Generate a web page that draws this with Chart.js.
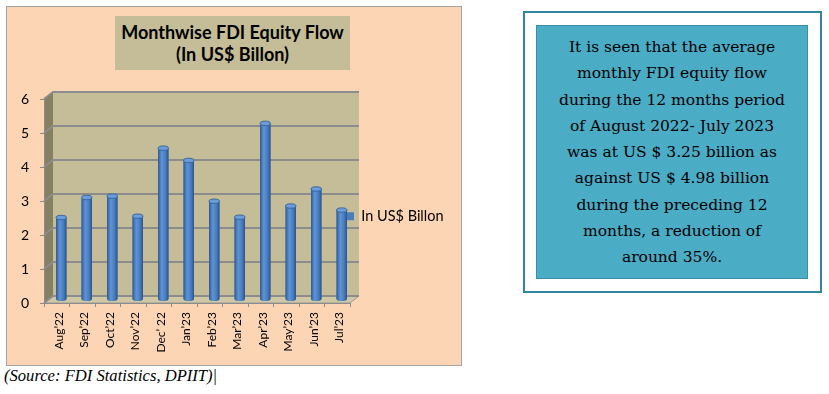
<!DOCTYPE html>
<html>
<head>
<meta charset="utf-8">
<script src="https://cdn.jsdelivr.net/npm/chart.js@4.4.0/dist/chart.umd.min.js"></script>
<style>
  body { margin: 0; background: #fff; width: 829px; height: 394px; position: relative; overflow: hidden; font-family: Lato, sans-serif; }
  #chartBox { position: absolute; left: 6px; top: 6px; width: 454px; height: 358px; border: 1px solid #a5a5a5; background: #fcd5b5; }
  #chartBox canvas { position: absolute; left: 0; top: 0; }
  #chartTitle { position: absolute; left: 108px; top: 9px; width: 235px; height: 54px; background: #c4bd97;
    font: bold 18px Lato, sans-serif; line-height: 22px; text-align: center; box-sizing: border-box; padding-top: 5px; color: #000; }
  #source { position: absolute; left: 4px; top: 366px; font: italic 16.6px "Liberation Serif", serif; color: #000; }
  #noteOuter { position: absolute; left: 523px; top: 11px; width: 295px; height: 278px; border: 2px solid #31859c; background: #fff; }
  #noteInner { position: absolute; left: 11px; top: 12px; width: 270px; height: 252px; border: 1px solid #3a8ea6; background: #4bacc6;
    font: 15.5px "DejaVu Serif", serif; line-height: 26.3px; text-align: center; color: #000; }
  #noteInner div { margin-top: 8px; }
</style>
</head>
<body>
<div id="chartBox">
  <canvas id="fdiChart" width="454" height="358"></canvas>
  <div id="chartTitle">Monthwise FDI Equity Flow<br>(In US$ Billon)</div>
</div>
<div id="source">(Source: FDI Statistics, DPIIT)|</div>
<div id="noteOuter">
  <div id="noteInner"><div>It is seen that the average<br>monthly FDI equity flow<br>during the 12 months period<br>of August 2022- July 2023<br>was at US $ 3.25 billion as<br>against US $ 4.98 billion<br>during the preceding 12<br>months, a reduction of<br>around 35%.</div></div>
</div>

<script>
// chart data
const months = ["Aug’22", "Sep’22", "Oct’22", "Nov’22", "Dec’ 22", "Jan’23", "Feb’23", "Mar’23", "Apr’23", "May’23", "Jun’23", "Jul’23"];
const fdiEquity = [2.41, 3.0, 3.04, 2.45, 4.45, 4.09, 2.89, 2.42, 5.18, 2.75, 3.25, 2.63];
const seriesName = "In US$ Billon";
const yMin = 0;
const yMax = 6;
const yStep = 1;

// fake 3D depth of the excel style plot
const DEPTH_X = 9;
const DEPTH_Y = -7;

Chart.defaults.font.family = "Lato, sans-serif";
Chart.defaults.color = "#000";

const walls3d = {
  id: "walls3d",
  afterLayout(chart) {
    // put the legend next to the last bar like in the original
    const lg = chart.legend;
    const w = lg.width, h = lg.height;
    lg.left = 339; lg.top = 202;
    lg.right = lg.left + w; lg.bottom = lg.top + h;
  },
  beforeDraw(chart) {
    const { ctx, chartArea: a, scales: { y } } = chart;
    ctx.save();
    // back wall
    ctx.fillStyle = "#c4bd97";
    ctx.fillRect(a.left + DEPTH_X, a.top + DEPTH_Y, a.right - a.left, a.bottom - a.top);
    // side wall
    ctx.fillStyle = "#858062";
    ctx.beginPath();
    ctx.moveTo(a.left, a.top);
    ctx.lineTo(a.left + DEPTH_X, a.top + DEPTH_Y);
    ctx.lineTo(a.left + DEPTH_X, a.bottom + DEPTH_Y);
    ctx.lineTo(a.left, a.bottom);
    ctx.closePath();
    ctx.fill();
    // floor
    ctx.fillStyle = "#cfc8a3";
    ctx.beginPath();
    ctx.moveTo(a.left, a.bottom);
    ctx.lineTo(a.left + DEPTH_X, a.bottom + DEPTH_Y);
    ctx.lineTo(a.right + DEPTH_X, a.bottom + DEPTH_Y);
    ctx.lineTo(a.right, a.bottom);
    ctx.closePath();
    ctx.fill();
    ctx.strokeStyle = "#9a9a9a";
    ctx.lineWidth = 1;
    ctx.stroke();
    // gridlines on side + back wall
    ctx.strokeStyle = "#8c8c8c";
    ctx.lineWidth = 2;
    y.ticks.forEach(t => {
      const py = y.getPixelForValue(t.value);
      ctx.beginPath();
      ctx.moveTo(a.left, py);
      ctx.lineTo(a.left + DEPTH_X, py + DEPTH_Y);
      ctx.lineTo(a.right + DEPTH_X, py + DEPTH_Y);
      ctx.stroke();
    });
    ctx.restore();
  },
  beforeDatasetsDraw(chart) {
    // bars sit in the middle of the depth
    chart.ctx.save();
    chart.ctx.translate(DEPTH_X / 2, DEPTH_Y / 2);
  },
  afterDatasetsDraw(chart) {
    const ctx = chart.ctx;
    const meta = chart.getDatasetMeta(0);
    meta.data.forEach(bar => {
      const { x, y, width, base } = bar.getProps(["x", "y", "width", "base"], true);
      const l = x - width / 2;
      // cylinder shading
      const g = ctx.createLinearGradient(l, 0, l + width, 0);
      g.addColorStop(0, "#2f5a93");
      g.addColorStop(0.35, "#5e93d6");
      g.addColorStop(0.7, "#4a7ec0");
      g.addColorStop(1, "#2c5289");
      ctx.fillStyle = g;
      ctx.fillRect(l, y, width, base - y);
      // bottom cap
      ctx.beginPath();
      ctx.ellipse(x, base, width / 2, 2, 0, 0, Math.PI);
      ctx.fill();
      // top cap
      ctx.beginPath();
      ctx.ellipse(x, y, width / 2, 2.2, 0, 0, Math.PI * 2);
      ctx.fillStyle = "#6b9ddb";
      ctx.fill();
      ctx.strokeStyle = "#3a679f";
      ctx.lineWidth = 1;
      ctx.stroke();
    });
    ctx.restore();
  }
};

const chart = new Chart(document.getElementById("fdiChart"), {
  type: "bar",
  data: {
    labels: months,
    datasets: [{
      label: seriesName,
      data: fdiEquity,
      backgroundColor: "#4a7ebb",
      borderWidth: 0,
      barPercentage: 0.41,
      categoryPercentage: 1
    }]
  },
  options: {
    responsive: false,
    animation: false,
    devicePixelRatio: 1,
    layout: { padding: { top: 92, right: 111, bottom: 0, left: 0 } },
    scales: {
      x: {
        ticks: { minRotation: 90, maxRotation: 90, autoSkip: false, padding: 5, labelOffset: 2, font: { size: 12 } },
        grid: { drawOnChartArea: false, offset: true, tickLength: 4, color: "#8c8c8c" },
        border: { color: "#8c8c8c" },
        afterFit(scale) { scale.height = 62; }
      },
      y: {
        min: yMin,
        max: yMax,
        ticks: { stepSize: yStep, padding: 11, font: { size: 14 } },
        grid: { drawOnChartArea: false, tickLength: 4, color: "#8c8c8c" },
        border: { color: "#8c8c8c" },
        afterFit(scale) { scale.width = 37; }
      }
    },
    plugins: {
      title: { display: false },
      tooltip: { enabled: false },
      legend: {
        position: "chartArea",
        align: "start",
        labels: { boxWidth: 8, boxHeight: 8, padding: 0, font: { size: 14.5 }, color: "#000" }
      }
    }
  },
  plugins: [walls3d]
});
</script>
</body>
</html>
